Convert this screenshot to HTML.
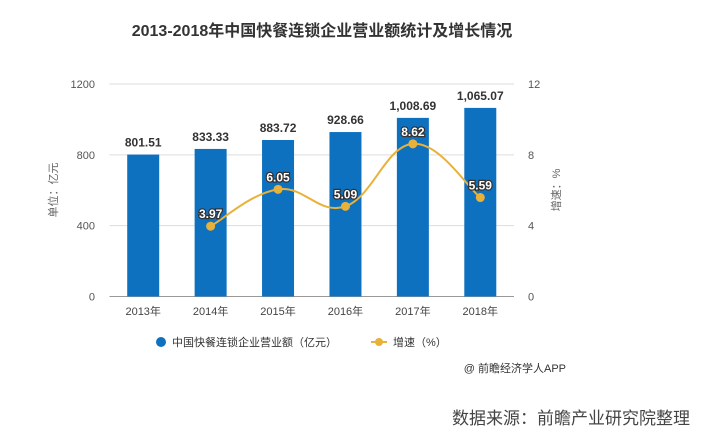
<!DOCTYPE html>
<html><head><meta charset="utf-8"><style>
body{margin:0;background:#fff;width:707px;height:434px;overflow:hidden;font-family:"Liberation Sans","Noto Sans CJK SC",sans-serif;}
</style></head><body>
<svg id="c" width="707" height="434" style="position:absolute;left:0;top:0" font-family="Liberation Sans, Noto Sans CJK SC, sans-serif">
<text x="322" y="36" text-anchor="middle" font-size="16" font-weight="bold" fill="#333">2013-2018年中国快餐连锁企业营业额统计及增长情况</text>
<g id="grid"></g><g id="bars"></g><g id="line"></g><g id="labels"></g>
<text transform="translate(57,190) rotate(-90)" text-anchor="middle" font-size="11" fill="#666">单位：亿元</text>
<text transform="translate(560,190) rotate(-90)" text-anchor="middle" font-size="11" fill="#666">增速：%</text>
<g>
<circle cx="161" cy="342" r="5" fill="#0e71c0"/>
<text x="172" y="346" font-size="11" fill="#333">中国快餐连锁企业营业额（亿元）</text>
<line x1="371" y1="342" x2="387" y2="342" stroke="#e8b23a" stroke-width="2"/>
<circle cx="379" cy="342" r="4" fill="#e8b23a"/>
<text x="393" y="346" font-size="11" fill="#333">增速（%）</text>
</g>
<text x="566" y="372" text-anchor="end" font-size="11" fill="#333">@ 前瞻经济学人APP</text>
<text x="690" y="424" text-anchor="end" font-size="17" fill="#444">数据来源：前瞻产业研究院整理</text>
</svg>
<script>
const categories=["2013年","2014年","2015年","2016年","2017年","2018年"];
const revenue=[801.51,833.33,883.72,928.66,1008.69,1065.07];
const revenueLabels=["801.51","833.33","883.72","928.66","1,008.69","1,065.07"];
const growth=[null,3.97,6.05,5.09,8.62,5.59];
const leftTicks=[0,400,800,1200];
const rightTicks=[0,4,8,12];
const NS="http://www.w3.org/2000/svg";
const x0=109.5,x1=514,yb=296.5,yt=84;
const bw=(x1-x0)/categories.length;
const xc=i=>x0+bw*(i+0.5);
const yL=v=>yb-(v/1200)*(yb-yt);
const yR=v=>yb-(v/12)*(yb-yt);
function mk(t,a,p){const e=document.createElementNS(NS,t);for(const k in a)e.setAttribute(k,a[k]);p.appendChild(e);return e;}
const g=document.getElementById('grid');
leftTicks.forEach((t,i)=>{
 const l=mk('line',{x1:x0,x2:x1,y1:yL(t),y2:yL(t),stroke:i==0?'#999':'#ddd','stroke-width':1},g);
 
 
 const tx=mk('text',{x:95,y:yL(t)+4,'text-anchor':'end','font-size':11,fill:'#555'},g);tx.textContent=t;
 
 
});
rightTicks.forEach(t=>{
 const tx=mk('text',{x:528,y:yR(t)+4,'font-size':11,fill:'#555'},g);tx.textContent=t;
 
 
});
categories.forEach((c,i)=>{
 const tx=mk('text',{x:xc(i),y:315,'text-anchor':'middle','font-size':11,fill:'#444'},g);tx.textContent=c;
 
 
});
const bg=document.getElementById('bars'),lb=document.getElementById('labels');
revenue.forEach((v,i)=>{
 const r=mk('rect',{x:xc(i)-16,y:yL(v),width:32,height:yb-yL(v),fill:'#0e71c0'},bg);
 
 
 const t=mk('text',{x:xc(i),y:yL(v)-8,'text-anchor':'middle','font-size':12,'font-weight':'bold',fill:'#333'},lb);t.textContent=revenueLabels[i];
 
 
});
const pts=[];growth.forEach((v,i)=>{if(v!=null)pts.push([xc(i),yR(v),v]);});
let d='M'+pts[0][0]+','+pts[0][1];
for(let i=0;i<pts.length-1;i++){
 const p0=pts[Math.max(0,i-1)],p1=pts[i],p2=pts[i+1],p3=pts[Math.min(pts.length-1,i+2)];
 const s=0.2;
 const c1x=p1[0]+(p2[0]-p0[0])*s,c1y=p1[1]+(p2[1]-p0[1])*s;
 const c2x=p2[0]-(p3[0]-p1[0])*s,c2y=p2[1]-(p3[1]-p1[1])*s;
 d+=` C${c1x},${c1y} ${c2x},${c2y} ${p2[0]},${p2[1]}`;
}
const lg=document.getElementById('line');
const pl=mk('path',{d:d,fill:'none',stroke:'#e8b23a','stroke-width':2},lg);


pts.forEach(p=>{
 const c=mk('circle',{cx:p[0],cy:p[1],r:4.5,fill:'#e8b23a'},lg);
 
 
 const t=mk('text',{x:p[0],y:p[1]-8,'text-anchor':'middle','font-size':12,'font-weight':'bold',fill:'#fff',stroke:'#333','stroke-width':2.5,'paint-order':'stroke'},lb);t.textContent=p[2].toFixed(2);
 
 
});
</script>
</body></html>
